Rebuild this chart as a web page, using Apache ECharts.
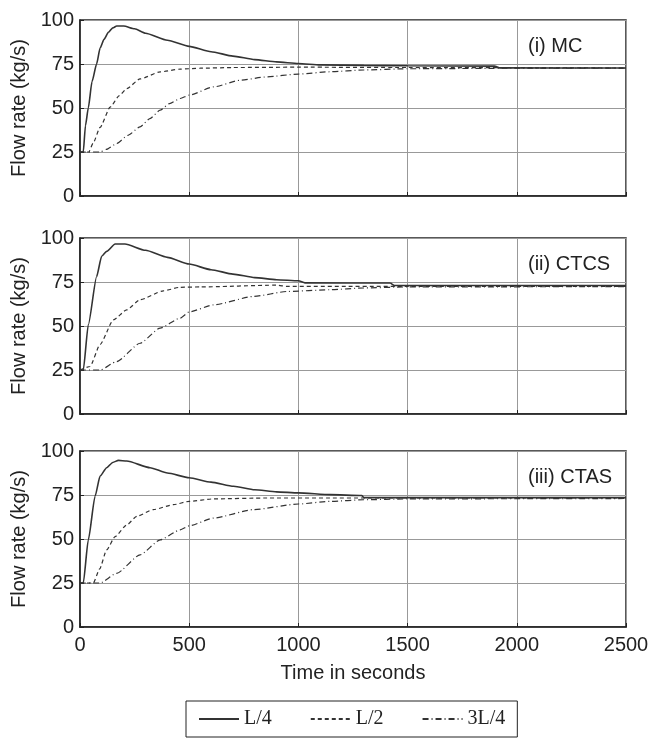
<!DOCTYPE html>
<html>
<head>
<meta charset="utf-8">
<script src="https://cdn.jsdelivr.net/npm/echarts@6/dist/echarts.min.js"></script>
<style>
  html, body { margin: 0; padding: 0; background: #fff; }
  #main { width: 652px; height: 738px; }
</style>
</head>
<body>
<div id="main"></div>
<script>
// panel labels and legend names
var panelLabels = ['(i) MC', '(ii) CTCS', '(iii) CTAS'];
var seriesNames = ['L/4', 'L/2', '3L/4'];

// (i) MC  -- [time s, flow kg/s]
var mcL4 = [[0,25],[15,25],[25,40],[38,50],[55,65],[76,75],[92,84],[110,89],[130,93],[150,95.5],[168,96.6],[200,96.6],[250,95],[300,92.5],[400,88.5],[500,85],[600,82],[700,79.5],[800,77.5],[900,76.2],[1000,75.3],[1100,74.5],[1300,74.2],[1500,74],[1900,73.8],[1920,72.8],[2500,72.7]];
var mcL2 = [[0,25],[40,25],[60,30],[92,39],[138,50.5],[180,57],[214,61],[275,66.5],[367,70.5],[459,72.1],[550,72.6],[700,73],[1000,73.2],[1500,73],[2500,72.7]];
var mc3L4 = [[0,25],[92,25],[120,26.5],[168,29.8],[220,34.5],[275,39.3],[320,44],[367,48.8],[410,52.5],[459,55.4],[500,57.3],[612,62],[734,65.8],[856,67.7],[1000,69.3],[1147,70.6],[1300,71.6],[1500,72.3],[2000,72.6],[2500,72.6]];

// (ii) CTCS
var ctcsL4 = [[0,25],[15,25],[38,50.7],[76,78],[99,89.6],[122,92.4],[161,96.6],[206,96.6],[300,93],[400,89],[500,85.2],[600,82],[700,79.5],[800,77.5],[900,76.3],[1000,75.7],[1030,74.5],[1420,74.4],[1440,73],[2500,73]];
var ctcsL2 = [[0,25],[46,27],[92,39.5],[153,53.5],[214,59.2],[275,64.9],[382,70],[459,72],[550,72.2],[900,73.2],[950,72.5],[2500,72.5]];
var ctcs3L4 = [[0,25],[92,25],[168,29.8],[275,40.2],[367,48.8],[459,54.5],[500,58],[612,62],[795,66.8],[948,69.6],[1147,70.6],[1300,71.6],[1500,72.2],[2500,72.4]];

// (iii) CTAS
var ctasL4 = [[0,25],[15,25],[38,49.5],[69,74.3],[92,85.7],[122,90.5],[150,93.5],[176,94.7],[214,94.3],[321,90.5],[400,87.5],[500,84.8],[600,82.3],[703,80],[800,78],[900,76.8],[1000,76.2],[1147,75.2],[1290,74.7],[1300,73.5],[2500,73.5]];
var ctasL2 = [[0,25],[61,25],[90,33],[122,43.8],[161,51.4],[214,58],[260,62.9],[336,66.7],[428,69.5],[500,71.4],[612,72.8],[856,73.3],[2500,73.3]];
var ctas3L4 = [[0,25],[92,25],[168,30.5],[275,41],[367,49.5],[459,55.2],[500,57.5],[612,61.9],[795,66.7],[1000,69.9],[1147,71.4],[1300,72.3],[1500,72.8],[2500,73]];

var panels = [[mcL4, mcL2, mc3L4], [ctcsL4, ctcsL2, ctcs3L4], [ctasL4, ctasL2, ctas3L4]];

var font = '"Liberation Sans", Arial, Helvetica, sans-serif';
var ink = '#222';
var gridTops = [20, 238, 451];
var gridH = 176;
var lineTypes = ['solid', [4, 3], [6, 3, 1, 3]];
var lineWidths = [1.6, 1.2, 1.2];

var chart = echarts.init(document.getElementById('main'));

var grids = [], xAxes = [], yAxes = [], series = [], titles = [];
for (var p = 0; p < 3; p++) {
    grids.push({
        left: 80, top: gridTops[p], width: 546, height: gridH,
        show: true, borderColor: ink, borderWidth: 1.5, backgroundColor: 'transparent'
    });
    var last = (p === 2);
    xAxes.push({
        gridIndex: p, type: 'value', min: 0, max: 2500, interval: 500,
        name: last ? 'Time in seconds' : '',
        nameLocation: 'middle', nameGap: 36,
        nameTextStyle: { fontFamily: font, fontSize: 20, color: ink },
        axisLine: { show: true, lineStyle: { color: ink, width: 1.5 } },
        axisTick: { show: true, inside: true, length: 4, lineStyle: { color: ink } },
        axisLabel: { show: last, fontFamily: font, fontSize: 20, color: ink, margin: 8,
                     formatter: function (v) { return String(v); } },
        splitLine: { show: true, lineStyle: { color: '#999', width: 1 } }
    });
    yAxes.push({
        gridIndex: p, type: 'value', min: 0, max: 100, interval: 25,
        name: 'Flow rate (kg/s)',
        nameLocation: 'middle', nameGap: 46,
        nameTextStyle: { fontFamily: font, fontSize: 20, color: ink },
        axisLine: { show: true, lineStyle: { color: ink, width: 1.5 } },
        axisTick: { show: true, inside: true, length: 4, lineStyle: { color: ink } },
        axisLabel: { fontFamily: font, fontSize: 20, color: ink, margin: 6 },
        splitLine: { show: true, lineStyle: { color: '#999', width: 1 } }
    });
    titles.push({
        text: panelLabels[p], left: 528, top: gridTops[p] + 16, padding: 0,
        textStyle: { fontFamily: font, fontSize: 20, fontWeight: 'normal', color: ink }
    });
    for (var s = 0; s < 3; s++) {
        series.push({
            name: seriesNames[s], type: 'line',
            xAxisIndex: p, yAxisIndex: p,
            data: panels[p][s],
            symbol: 'none', smooth: 0.2, smoothMonotone: 'x',
            lineStyle: { color: '#333', width: lineWidths[s], type: lineTypes[s] },
            itemStyle: { color: '#333' },
            z: 3 - s
        });
    }
}

chart.setOption({
    animation: false,
    title: titles,
    grid: grids,
    xAxis: xAxes,
    yAxis: yAxes,
    legend: {
        data: seriesNames,
        left: 186, top: 701,
        padding: [8, 12, 8, 12],
        itemGap: 38, itemWidth: 40, itemHeight: 14,
        borderColor: ink, borderWidth: 1,
        itemStyle: { opacity: 0 },
        textStyle: { fontFamily: '"Liberation Serif", "Times New Roman", serif', fontSize: 20, color: ink }
    },
    series: series
});
</script>
</body>
</html>
